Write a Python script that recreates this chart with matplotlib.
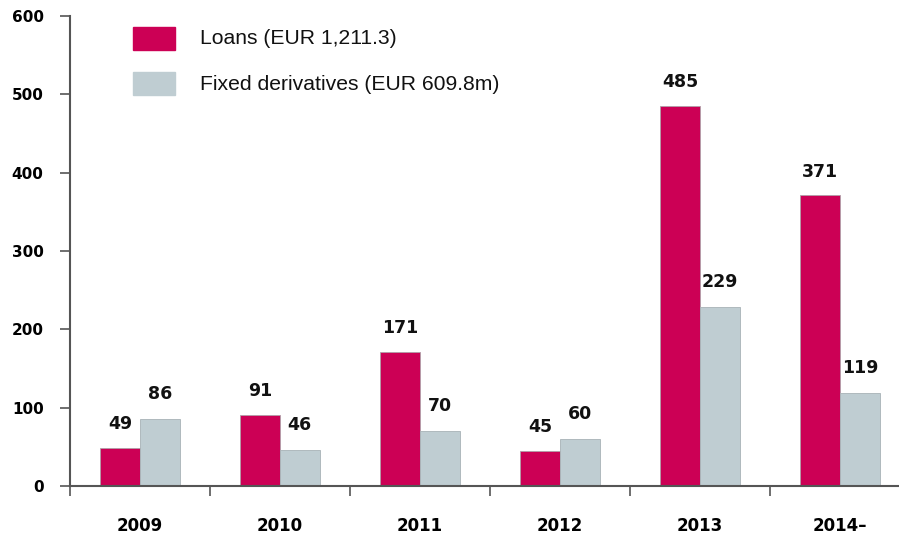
import matplotlib
matplotlib.use("Agg")
import matplotlib.pyplot as plt
import numpy as np
from matplotlib.patches import Rectangle

categories = ["2009", "2010", "2011", "2012", "2013", "2014\u2013"]
loans = [49, 91, 171, 45, 485, 371]
fixed = [86, 46, 70, 60, 229, 119]
legend_labels = ["Loans (EUR 1,211.3)", "Fixed derivatives (EUR 609.8m)"]
yticks = [0, 100, 200, 300, 400, 500, 600]

c_loans = "#CC0055"
c_fixed = "#BFCDD2"
axis_col = "#555555"

fig = plt.figure(figsize=(8.99, 5.33), dpi=100)
ax = fig.add_axes([70/899, 47/533, 829/899, 470/533])

x = np.arange(len(categories))
w = 0.283
ax.bar(x - w/2, loans, w, color=c_loans, edgecolor="#B0A0A8", linewidth=0.6, zorder=2)
ax.bar(x + w/2, fixed, w, color=c_fixed, edgecolor="#A8B2B6", linewidth=0.6, zorder=2)

for xi, v in zip(x - w/2, loans):
    ax.annotate(str(v), (xi, v), xytext=(0, 17), textcoords="offset points",
                ha="center", va="center", fontsize=12.5, fontweight="bold", color="#111111")
for xi, v in zip(x + w/2, fixed):
    ax.annotate(str(v), (xi, v), xytext=(0, 18), textcoords="offset points",
                ha="center", va="center", fontsize=12.5, fontweight="bold", color="#111111")

ax.set_yticks(yticks)
ax.set_yticklabels([str(t) for t in yticks], fontsize=11, fontweight="bold")
ax.set_xticks(np.arange(len(categories) + 1) - 0.5)
ax.set_xticklabels([])
ax.set_xticks(x, minor=True)
ax.set_xticklabels(categories, minor=True, fontsize=12, fontweight="bold")
ax.set_ylim(0, 600)
ax.set_xlim(-0.5, -0.5 + 829/140)
ax.tick_params(axis="x", which="minor", length=0, pad=22)
ax.tick_params(axis="x", which="major", length=7, direction="out", width=1.2, color=axis_col)
ax.tick_params(axis="y", length=7, direction="out", width=1.2, color=axis_col, pad=12)

for s in ["top", "right"]:
    ax.spines[s].set_visible(False)
for s in ["left", "bottom"]:
    ax.spines[s].set_color(axis_col)
    ax.spines[s].set_linewidth(1.5)

# legend drawn manually in figure pixel coordinates
for i, (lab, col) in enumerate(zip(legend_labels, [c_loans, c_fixed])):
    ytop = 27 + i * 45
    fig.patches.append(Rectangle((133/899, 1 - (ytop + 23)/533), 42/899, 23/533,
                                 transform=fig.transFigure, color=col, zorder=3))
    fig.text(200/899, 1 - (ytop + 12)/533, lab, fontsize=15.2, family="Liberation Sans",
             va="center", ha="left", color="#111111")

fig.savefig("out.png", dpi=100)
